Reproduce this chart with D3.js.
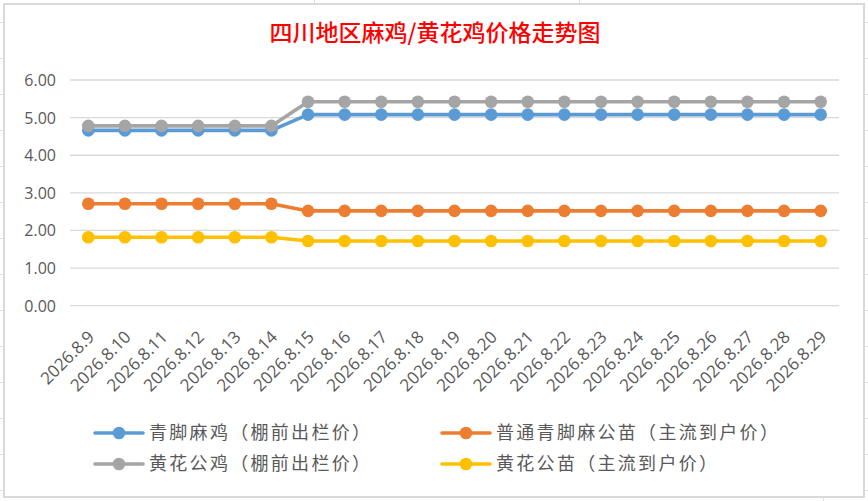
<!DOCTYPE html>
<html><head><meta charset="utf-8">
<script src="https://cdn.jsdelivr.net/npm/d3@7/dist/d3.min.js"></script>
<style>body{margin:0;background:#fff;}svg{display:block;}</style>
</head><body>
<svg id="c" width="868" height="501"></svg>
<script>
const categories = ["2026.8.9","2026.8.10","2026.8.11","2026.8.12","2026.8.13","2026.8.14","2026.8.15","2026.8.16","2026.8.17","2026.8.18","2026.8.19","2026.8.20","2026.8.21","2026.8.22","2026.8.23","2026.8.24","2026.8.25","2026.8.26","2026.8.27","2026.8.28","2026.8.29"];
const seriesNames = ["青脚麻鸡（棚前出栏价）","普通青脚麻公苗（主流到户价）","黄花公鸡（棚前出栏价）","黄花公苗（主流到户价）"];
const qingjiaoMaji = [4.66,4.66,4.66,4.66,4.66,4.66,5.08,5.08,5.08,5.08,5.08,5.08,5.08,5.08,5.08,5.08,5.08,5.08,5.08,5.08,5.08];
const putongGongmiao = [2.71,2.71,2.71,2.71,2.71,2.71,2.52,2.52,2.52,2.52,2.52,2.52,2.52,2.52,2.52,2.52,2.52,2.52,2.52,2.52,2.52];
const huanghuaGongji = [4.78,4.78,4.78,4.78,4.78,4.78,5.42,5.42,5.42,5.42,5.42,5.42,5.42,5.42,5.42,5.42,5.42,5.42,5.42,5.42,5.42];
const huanghuaGongmiao = [1.82,1.82,1.82,1.82,1.82,1.82,1.72,1.72,1.72,1.72,1.72,1.72,1.72,1.72,1.72,1.72,1.72,1.72,1.72,1.72,1.72];
const yTicks = [0,1,2,3,4,5,6];
const title = "四川地区麻鸡/黄花鸡价格走势图";

const colors = ["#5B9BD5","#ED7D31","#A5A5A5","#FFC000"];
const seriesValues = [qingjiaoMaji, putongGongmiao, huanghuaGongji, huanghuaGongmiao];

const svg = d3.select("#c");

// spreadsheet background lines outside the chart
const bg = svg.append("g").attr("stroke","#e0e0e0").attr("stroke-width",1);
[22,58,94,130,166,202,238,274,310,346,382,418,454,490].forEach(y=>{
  bg.append("line").attr("x1",0).attr("x2",3).attr("y1",y+0.5).attr("y2",y+0.5);
  bg.append("line").attr("x1",865).attr("x2",868).attr("y1",y+0.5).attr("y2",y+0.5);
});
[314,579].forEach(x=>{
  bg.append("line").attr("x1",x+0.5).attr("x2",x+0.5).attr("y1",0).attr("y2",3);
});
[823].forEach(x=>{
  bg.append("line").attr("x1",x+0.5).attr("x2",x+0.5).attr("y1",498).attr("y2",501);
});

// chart border
svg.append("rect").attr("x",4).attr("y",4).attr("width",860).attr("height",493)
  .attr("fill","#fff").attr("stroke","#d9d9d9").attr("stroke-width",2);

const x = d3.scaleBand().domain(categories).range([70,839]);
const y = d3.scaleLinear().domain([0,6]).range([305.7,80]);

// gridlines
svg.append("g").selectAll("line").data(yTicks).join("line")
  .attr("x1",70).attr("x2",839)
  .attr("y1",d=>y(d)).attr("y2",d=>y(d))
  .attr("stroke","#d9d9d9").attr("stroke-width",1.3);

// y axis labels
const yAxis = d3.axisLeft(y).tickValues(yTicks).tickFormat(d3.format(".2f")).tickSize(0).tickPadding(0);
const yg = svg.append("g").attr("transform","translate(56,0)").call(yAxis);
yg.select(".domain").remove();
yg.selectAll("text").attr("font-family","'Open Sans', 'Liberation Sans', sans-serif")
  .attr("font-size",16).attr("fill","#595959").attr("dy","0.34em");

// x axis labels
const xAxis = d3.axisBottom(x).tickSize(0).tickPadding(0);
const xg = svg.append("g").attr("transform","translate(0,306)").call(xAxis);
xg.select(".domain").remove();
xg.selectAll("text")
  .attr("font-family","'Open Sans', 'Liberation Sans', sans-serif")
  .attr("font-size",17).attr("fill","#595959")
  .attr("text-anchor","end").attr("dy",null).attr("y",0)
  .attr("transform","translate(7,32) rotate(-45)");

// lines and markers
const line = d3.line().x((d,i)=>x(categories[i])+x.bandwidth()/2).y(d=>y(d));
seriesValues.forEach((vals,si)=>{
  const g = svg.append("g");
  g.append("path").datum(vals).attr("d",line).attr("fill","none")
    .attr("stroke",colors[si]).attr("stroke-width",3.6).attr("stroke-linejoin","round");
  g.selectAll("circle").data(vals).join("circle")
    .attr("cx",(d,i)=>x(categories[i])+x.bandwidth()/2)
    .attr("cy",d=>y(d)).attr("r",6.3).attr("fill",colors[si]);
});

// title
svg.append("text").attr("x",435).attr("y",41).attr("text-anchor","middle")
  .attr("font-family","'Noto Sans CJK SC', sans-serif").attr("font-size",23).attr("font-weight",500)
  .attr("fill","#FF0000").text(title);

// legend
const legendPos = [[95,433],[442,433],[95,464],[442,464]];
seriesNames.forEach((name,si)=>{
  const [lx,ly] = legendPos[si];
  const g = svg.append("g");
  g.append("line").attr("x1",lx).attr("x2",lx+48).attr("y1",ly).attr("y2",ly)
    .attr("stroke",colors[si]).attr("stroke-width",3.6).attr("stroke-linecap","round");
  g.append("circle").attr("cx",lx+24).attr("cy",ly).attr("r",6.3).attr("fill",colors[si]);
  g.append("text").attr("x",lx+54).attr("y",ly).attr("dy","0.36em")
    .attr("font-family","'Noto Sans CJK SC', sans-serif").attr("font-size",18)
    .attr("letter-spacing",2.3).attr("fill","#595959").text(name);
});
</script>
</body></html>
